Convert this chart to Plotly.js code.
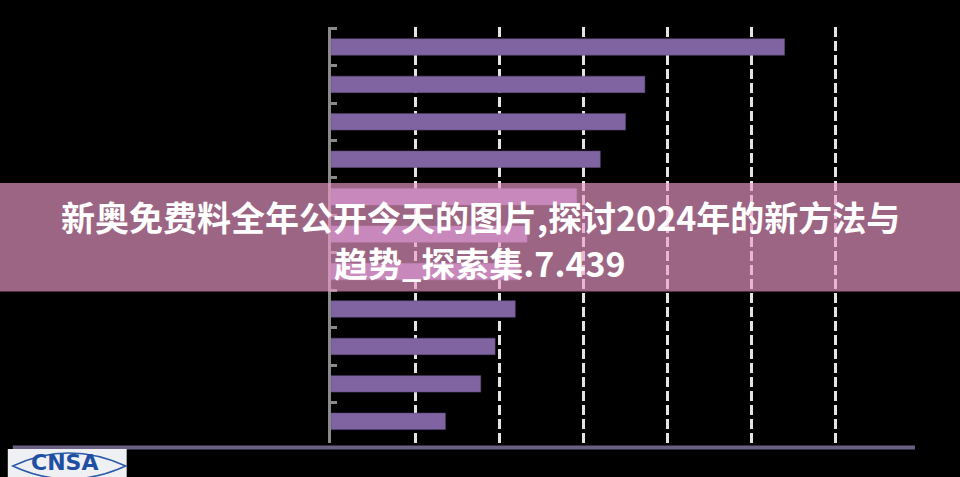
<!DOCTYPE html>
<html>
<head>
<meta charset="utf-8">
<script src="https://cdn.plot.ly/plotly-3.0.1.min.js"></script>
<style>
html,body{margin:0;padding:0;background:#000;}
#chart{width:960px;height:477px;}
</style>
</head>
<body>
<div id="chart"></div>
<script>
// ---- data ----
const categories = ["项目1","项目2","项目3","项目4","项目5","项目6","项目7","项目8","项目9","项目10","项目11"];
const values = [53.9, 37.3, 35.0, 32.0, 29.2, 23.3, 22.4, 21.9, 19.5, 17.8, 13.6];
const titleLine1 = "新奥免费料全年公开今天的图片,探讨2024年的新方法与";
const titleLine2 = "趋势_探索集.7.439";
const logoText = "CNSA";

// ---- layout helpers (pixel -> paper) ----
const W = 960, H = 477;
const L = 330.5, R = 82, T = 27, B = 34;
const PW = W - L - R, PH = H - T - B;
const px = x => (x - L) / PW;
const py = y => (H - B - y) / PH;

const trace = {
  type: "bar",
  orientation: "h",
  y: categories,
  x: values,
  marker: {color: "#8064A2", line: {color: "#5e4a7a", width: 0.5}},
  hoverinfo: "skip"
};

const eye = `M ${px(12)} ${py(466)} Q ${px(68)} ${py(440)} ${px(125)} ${py(466)} Q ${px(68)} ${py(492)} ${px(12)} ${py(466)} Z`;

const layout = {
  width: W, height: H,
  margin: {l: L, r: R, t: T, b: B, pad: 0},
  paper_bgcolor: "#000000",
  plot_bgcolor: "#000000",
  showlegend: false,
  bargap: 0.56,
  xaxis: {
    range: [0, 65],
    dtick: 10, tick0: 0,
    showgrid: true,
    gridcolor: "#e4e4e4",
    gridwidth: 3,
    griddash: "10px,4px",
    zeroline: false,
    showline: false,
    showticklabels: false,
    ticks: ""
  },
  yaxis: {
    type: "category",
    categoryorder: "array",
    categoryarray: categories,
    range: [10.58, -0.534],
    showgrid: false,
    zeroline: false,
    showline: true,
    linecolor: "#8a8a8a",
    linewidth: 3,
    ticks: "inside",
    tickson: "boundaries",
    ticklen: 6,
    tickwidth: 3,
    tickcolor: "#8a8a8a",
    showticklabels: false
  },
  shapes: [
    {type: "line", xref: "paper", yref: "paper", x0: px(12), x1: px(915), y0: py(447.5), y1: py(447.5),
     line: {color: "#6b6283", width: 4}, layer: "above"},
    {type: "rect", xref: "paper", yref: "paper", x0: px(-2), x1: px(962), y0: py(291.5), y1: py(183),
     fillcolor: "rgba(240,155,202,0.65)", line: {width: 0}, layer: "above"},
    {type: "rect", xref: "paper", yref: "paper", x0: px(7), x1: px(126), y0: py(478), y1: py(449),
     fillcolor: "#eef0f4", line: {width: 0}, layer: "above"},
    {type: "path", xref: "paper", yref: "paper", path: eye,
     line: {color: "#2b5aa8", width: 1.5}, layer: "above"}
  ],
  annotations: [
    {xref: "paper", yref: "paper", x: px(480), y: py(216), xanchor: "center", yanchor: "middle",
     text: "<b>" + titleLine1 + "</b>", showarrow: false,
     font: {family: "Noto Sans CJK SC, sans-serif", size: 34, color: "#ffffff"}},
    {xref: "paper", yref: "paper", x: px(480), y: py(262), xanchor: "center", yanchor: "middle",
     text: "<b>" + titleLine2 + "</b>", showarrow: false,
     font: {family: "Noto Sans CJK SC, sans-serif", size: 34, color: "#ffffff"}},
    {xref: "paper", yref: "paper", x: px(64), y: py(462.5), xanchor: "center", yanchor: "middle",
     text: "<b>" + logoText + "</b>", showarrow: false,
     font: {family: "DejaVu Sans, sans-serif", size: 22, color: "#1f4fa3"}}
  ]
};

Plotly.newPlot("chart", [trace], layout, {displayModeBar: false, staticPlot: true});
</script>
</body>
</html>
